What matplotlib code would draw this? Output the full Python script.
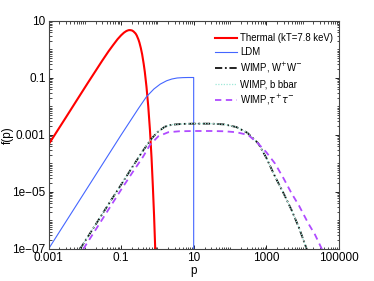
import numpy as np
import matplotlib
matplotlib.use("Agg")
import matplotlib.pyplot as plt
from matplotlib.ticker import LogLocator, FixedLocator, FixedFormatter, NullFormatter

plt.rcParams['font.family'] = ['Liberation Sans', 'DejaVu Sans']

# thermal (kT = 7.8 keV)
p_thermal = [0.001, 0.003, 0.006, 0.012, 0.02, 0.03, 0.045, 0.06, 0.08, 0.1, 0.12,
             0.14, 0.16, 0.176, 0.2, 0.22, 0.25, 0.27, 0.3, 0.32, 0.35, 0.38, 0.42,
             0.45, 0.5, 0.56, 0.625, 0.69, 0.75, 0.81, 0.87, 0.9]
f_thermal = [4.6e-4, 4.1e-3, 0.0165, 0.066, 0.18, 0.40, 0.86, 1.42, 2.3, 3.15, 3.9,
             4.45, 4.75, 4.8, 4.65, 4.3, 3.65, 3.1, 2.25, 1.75, 1.12, 0.68, 0.31,
             0.165, 0.05, 0.0102, 1.45e-3, 1.6e-4, 1.6e-5, 1.5e-6, 1.1e-7, 4e-8]

# LDM
p_ldm = [0.001, 0.01, 0.1, 0.3, 0.5, 0.8, 1.2, 1.8, 2.5, 3.5, 5, 7, 10, 10]
f_ldm = [1e-7, 1e-5, 1e-3, 8.5e-3, 0.022, 0.041, 0.061, 0.08, 0.092, 0.1, 0.103, 0.104, 0.104, 1e-8]

# WIMP, W+W-
p_ww = [0.0074, 0.02, 0.05, 0.1, 0.2, 0.4, 0.7, 1.0, 1.6, 2.5, 5, 10, 30, 70, 150,
        300, 600, 1000, 1740, 3000, 5000, 8000, 13000, 16000]
f_ww = [1e-7, 7.3e-7, 4.6e-6, 1.8e-5, 7.2e-5, 2.8e-4, 7.6e-4, 1.25e-3, 1.95e-3, 2.3e-3,
        2.45e-3, 2.5e-3, 2.5e-3, 2.35e-3, 1.9e-3, 1.2e-3, 5.1e-4, 1.6e-4, 3.5e-5, 9e-6,
        2.3e-6, 5.5e-7, 1e-7, 4e-8]

# WIMP, b bbar
p_bb = [0.0074, 0.02, 0.05, 0.1, 0.2, 0.4, 0.7, 1.0, 1.6, 2.5, 5, 10, 30, 70, 150,
        300, 600, 1000, 1740, 3000, 5000, 8000, 13000, 16000]
f_bb = [1e-7, 7.3e-7, 4.6e-6, 1.8e-5, 7.2e-5, 2.8e-4, 7.6e-4, 1.25e-3, 1.95e-3, 2.3e-3,
        2.45e-3, 2.5e-3, 2.5e-3, 2.35e-3, 1.9e-3, 1.2e-3, 5.1e-4, 1.6e-4, 3.5e-5, 9e-6,
        2.3e-6, 5.5e-7, 1e-7, 4e-8]

# WIMP, tau+tau-
p_tt = [0.0091, 0.02, 0.05, 0.1, 0.2, 0.4, 0.625, 1.06, 2.0, 4, 10, 30, 70, 150,
        317, 600, 1000, 1740, 3000, 5000, 8000, 14400, 22000, 34000, 40000]
f_tt = [1e-7, 4.8e-7, 3.0e-6, 1.2e-5, 4.6e-5, 1.7e-4, 4.5e-4, 9.0e-4, 1.25e-3, 1.35e-3,
        1.38e-3, 1.38e-3, 1.35e-3, 1.25e-3, 1.0e-3, 5.0e-4, 2.5e-4, 1e-4, 3e-5, 8.9e-6,
        3.3e-6, 7.9e-7, 3.2e-7, 1e-7, 6e-8]

xticks = [1e-3, 1e-1, 1e1, 1e3, 1e5]
xlabels = ['0.001', '0.1', '10', '1000', '100000']
yticks = [1e-7, 1e-5, 1e-3, 1e-1, 1e1]
ylabels = ['1e\u221207', '1e\u221205', '0.001', '0.1', '10']

fig = plt.figure(figsize=(3.74, 2.81), dpi=100)
ax = fig.add_axes([0.1297, 0.1139, 0.7763, 0.8114])

ax.plot(p_thermal, f_thermal, color='#ff0000', lw=1.5, label='Thermal (kT=7.8 keV)')
ax.plot(p_ldm, f_ldm, color='#4466ff', lw=0.8, label='LDM')
ax.plot(p_ww, f_ww, color='#111111', lw=1.3, ls=(0, (4, 1.5, 1, 1.5)), label='WIMP, W$^{+}$W$^{-}$')
ax.plot(p_bb, f_bb, color='#9fe8d8', lw=0.9, ls=(0, (1, 1.2)), label='WIMP, b bbar')
ax.plot(p_tt, f_tt, color='#b04bff', lw=1.3, ls=(0, (3.5, 2.5)), label='WIMP,$\\tau^{+}\\tau^{-}$')

ax.set_xscale('log')
ax.set_yscale('log')
ax.set_xlim(1e-3, 1e5)
ax.set_ylim(1e-7, 10)

ax.xaxis.set_major_locator(FixedLocator(xticks))
ax.xaxis.set_major_formatter(FixedFormatter(xlabels))
ax.yaxis.set_major_locator(FixedLocator(yticks))
ax.yaxis.set_major_formatter(FixedFormatter(ylabels))
ax.xaxis.set_minor_locator(LogLocator(base=10, subs=np.arange(1, 10), numticks=30))
ax.yaxis.set_minor_locator(LogLocator(base=10, subs=np.arange(1, 10), numticks=30))
ax.xaxis.set_minor_formatter(NullFormatter())
ax.yaxis.set_minor_formatter(NullFormatter())

ax.tick_params(which='both', direction='in', top=True, right=True, labelsize=8.5, pad=2)
ax.tick_params(which='major', length=3, width=0.6)
ax.tick_params(which='minor', length=1.8, width=0.5)
for s in ax.spines.values():
    s.set_linewidth(0.8)
    s.set_color('#444444')

ax.set_xlabel('p', fontsize=8.5, labelpad=1)
ax.set_ylabel('f(p)', fontsize=8.5)
ax.yaxis.set_label_coords(-0.118, 0.5)

ax.legend(loc='upper right', frameon=False, fontsize=6.9, handlelength=2.3,
          handletextpad=0.3, labelspacing=0.42, bbox_to_anchor=(1.01, 0.985))

fig.savefig('out.png', dpi=100)
